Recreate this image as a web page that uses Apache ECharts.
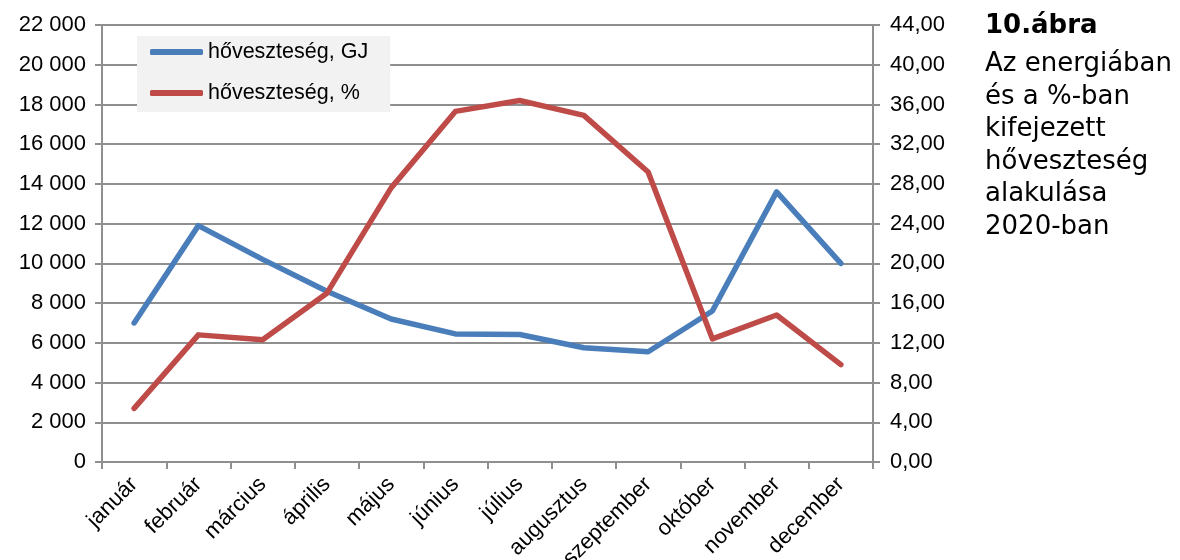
<!DOCTYPE html>
<html>
<head>
<meta charset="utf-8">
<title>Hőveszteség 2020</title>
<script src="https://cdn.jsdelivr.net/npm/echarts@6/dist/echarts.min.js"></script>
<style>
  html, body { margin: 0; padding: 0; background: #ffffff; }
  #chart { width: 1180px; height: 560px; }
</style>
</head>
<body>
<div id="chart"></div>
<script>
// Months of 2020
const months = ['január', 'február', 'március', 'április', 'május', 'június',
  'július', 'augusztus', 'szeptember', 'október', 'november', 'december'];

// Heat loss in energy (GJ), left axis
const lossGJ = [7000, 11900, 10200, 8600, 7200, 6450, 6420, 5750, 5550, 7600, 13600, 10000];

// Heat loss as a percentage, right axis
const lossPct = [5.4, 12.8, 12.3, 17.0, 27.6, 35.3, 36.4, 34.9, 29.2, 12.4, 14.8, 9.8];

const seriesNames = ['hőveszteség, GJ', 'hőveszteség, %'];
const figureTitle = '10.ábra';
const figureCaption = ['Az energiában', 'és a %-ban', 'kifejezett', 'hőveszteség', 'alakulása', '2020-ban'];

const gridColor = '#8f8f8f';
const sans = "'Liberation Sans', Arial, sans-serif";

const chart = echarts.init(document.getElementById('chart'), null, { renderer: 'canvas' });

chart.setOption({
  animation: false,
  backgroundColor: '#ffffff',
  title: {
    text: figureTitle,
    subtext: figureCaption.join('\n'),
    left: 985,
    top: 10,
    padding: 0,
    itemGap: 6,
    textStyle: { fontFamily: "'DejaVu Sans', Verdana, sans-serif", fontSize: 26, fontWeight: 'bold', color: '#000', lineHeight: 32 },
    subtextStyle: { fontFamily: "'DejaVu Sans', Verdana, sans-serif", fontSize: 26, color: '#000', lineHeight: 32.5 }
  },
  legend: {
    orient: 'vertical',
    left: 137,
    top: 36,
    padding: [4, 22, 7, 13],
    backgroundColor: '#f2f2f2',
    itemWidth: 53,
    itemHeight: 6,
    itemGap: 17,
    icon: 'roundRect',
    data: seriesNames,
    textStyle: { fontFamily: sans, fontSize: 21.5, color: '#000', lineHeight: 24 }
  },
  grid: { left: 102, right: 307, top: 25, bottom: 98, containLabel: false, outerBoundsMode: 'none' },
  xAxis: {
    type: 'category',
    data: months,
    boundaryGap: true,
    axisLine: { lineStyle: { color: gridColor, width: 2 } },
    axisTick: { show: true, length: 7, interval: 0, lineStyle: { color: gridColor, width: 2 } },
    axisLabel: { interval: 0, rotate: 45, margin: 19, fontFamily: sans, fontSize: 22, color: '#000' }
  },
  yAxis: [
    {
      type: 'value',
      min: 0, max: 22000, interval: 2000,
      axisLine: { show: true, lineStyle: { color: gridColor, width: 2 } },
      axisTick: { show: true, length: 7, lineStyle: { color: gridColor, width: 2 } },
      splitLine: { show: true, lineStyle: { color: gridColor, width: 2 } },
      axisLabel: {
        margin: 16, fontFamily: sans, fontSize: 22, color: '#000',
        formatter: v => String(v).replace(/\B(?=(\d{3})+(?!\d))/g, ' ')
      }
    },
    {
      type: 'value',
      position: 'right',
      min: 0, max: 44, interval: 4,
      axisLine: { show: true, lineStyle: { color: gridColor, width: 2 } },
      axisTick: { show: true, length: 7, lineStyle: { color: gridColor, width: 2 } },
      splitLine: { show: false },
      axisLabel: {
        margin: 17, fontFamily: sans, fontSize: 22, color: '#000',
        formatter: v => v.toFixed(2).replace('.', ',')
      }
    }
  ],
  series: [
    {
      name: seriesNames[0],
      type: 'line',
      yAxisIndex: 0,
      data: lossGJ,
      symbol: 'none',
      color: '#4a7ebb',
      lineStyle: { width: 5.5, color: '#4a7ebb', cap: 'round', join: 'round' }
    },
    {
      name: seriesNames[1],
      type: 'line',
      yAxisIndex: 1,
      data: lossPct,
      symbol: 'none',
      color: '#be4b48',
      lineStyle: { width: 5.5, color: '#be4b48', cap: 'round', join: 'round' }
    }
  ]
});
</script>
</body>
</html>
